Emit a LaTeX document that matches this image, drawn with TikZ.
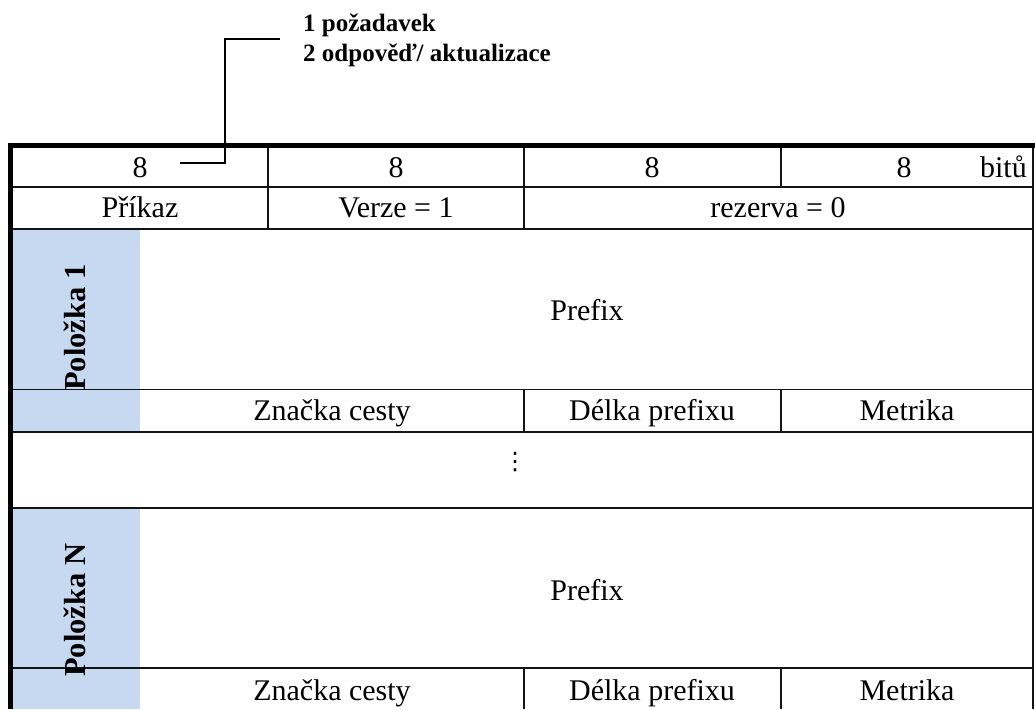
\documentclass[tikz,border=0pt]{standalone}
\usepackage{fontspec}
\setmainfont{Liberation Serif}
\newfontfamily\symbolfont{DejaVu Sans}
\definecolor{itemblue}{RGB}{198,217,240}
\begin{document}
\begin{tikzpicture}[x=1pt,y=-1pt,
  rule/.style={line width=1.7pt, draw=black!92},
  frame/.style={line width=5pt, draw=black},
  cell/.style={font=\fontsize{30}{36}\selectfont, inner sep=0pt, anchor=base},
  itemlabel/.style={font=\bfseries\fontsize{30.5}{36}\selectfont, inner sep=0pt, rotate=90, anchor=base west},
  legendtext/.style={font=\bfseries\fontsize{25}{30}\selectfont, inner sep=0pt, anchor=base west},
  leader/.style={line width=1.5pt, draw=black}]
\useasboundingbox (0,0) rectangle (1035,709);
\fill[white] (0,0) rectangle (1035,709);

% shaded item columns
\fill[itemblue] (13,229) rectangle (140,432);
\fill[itemblue] (13,508) rectangle (140,709);

% horizontal rules
\foreach \yy in {187,229,389.5,432,508,668}
  \draw[rule] (13,\yy) -- (1033,\yy);

% vertical rules
\draw[rule] (268,145) -- (268,229);
\draw[rule] (524,145) -- (524,229);
\draw[rule] (781,145) -- (781,187);
\draw[rule] (524,389.5) -- (524,432);
\draw[rule] (781,389.5) -- (781,432);
\draw[rule] (524,668) -- (524,709);
\draw[rule] (781,668) -- (781,709);
\draw[rule] (1033,145) -- (1033,709);

% heavy outer frame
\draw[frame] (10.5,709) -- (10.5,145) -- (1035,145);

% bit widths
\node[cell] (w1) at (140,177) {8};
\node[cell] (w2) at (396,177) {8};
\node[cell] (w3) at (652,177) {8};
\node[cell] (w4) at (904,177) {8};
\node[cell, anchor=base east] (unit) at (1027,177) {bitů};

% header fields
\node[cell] (cmd) at (140,217) {Příkaz};
\node[cell] (ver) at (396,217) {Verze = 1};
\node[cell] (res) at (778,217) {rezerva = 0};

% first entry
\node[itemlabel] (item1) at (85,391) {Položka 1};
\node[cell] (pfx1) at (587,320) {Prefix};
\node[cell] (tag1) at (332,420) {Značka cesty};
\node[cell] (len1) at (652,420) {Délka prefixu};
\node[cell] (met1) at (907,420) {Metrika};

% continuation mark
\node[font=\symbolfont\fontsize{24}{30}\selectfont, inner sep=0pt] (dots) at (515,462) {⋮};

% last entry
\node[itemlabel] (itemN) at (85,677) {Položka N};
\node[cell] (pfxN) at (587,600) {Prefix};
\node[cell] (tagN) at (332,700) {Značka cesty};
\node[cell] (lenN) at (652,700) {Délka prefixu};
\node[cell] (metN) at (907,700) {Metrika};

% legend for the command field
\node[legendtext] (leg1) at (303,32) {1 požadavek};
\node[legendtext] (leg2) at (303,62) {2 odpověď/ aktualizace};
\coordinate (legtip) at (280,39);
\coordinate (celltip) at (180,163);
\draw[leader] (legtip) -- (225,39) -- (225,163) -- (celltip);
\end{tikzpicture}
\end{document}
